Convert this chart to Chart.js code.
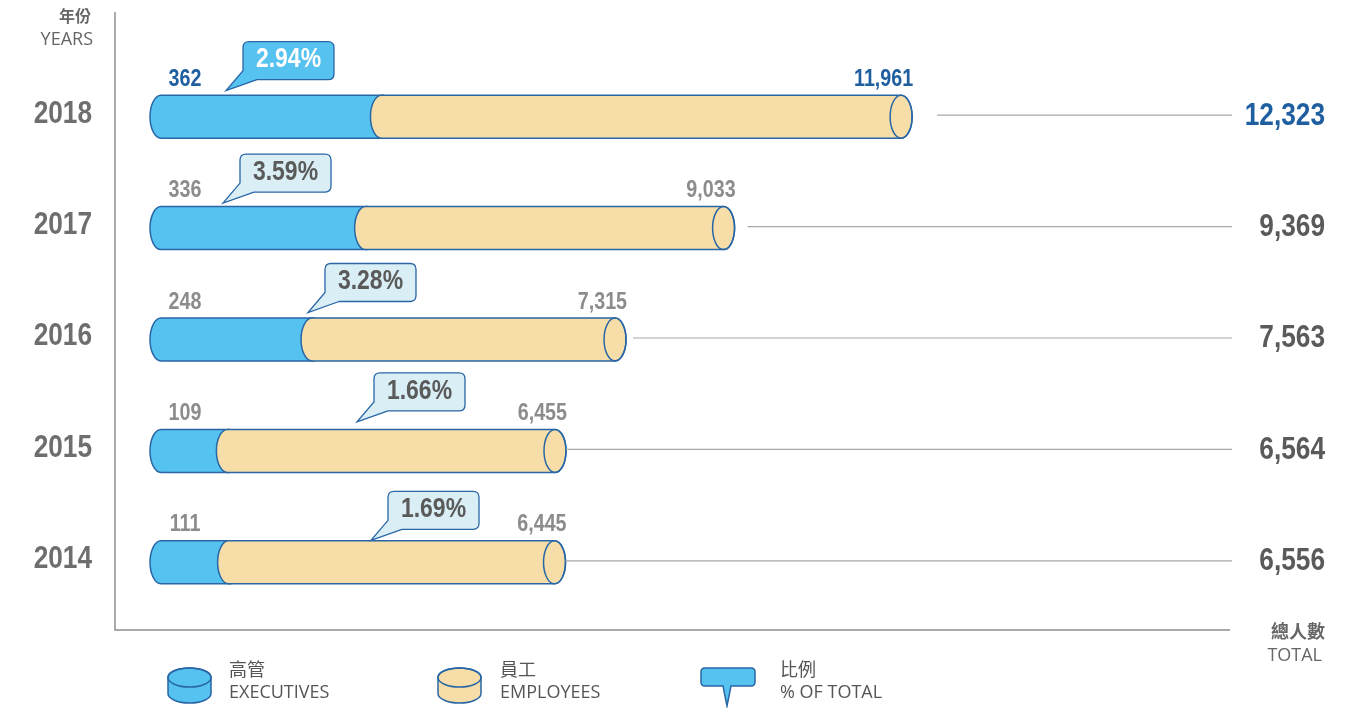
<!DOCTYPE html>
<html><head><meta charset="utf-8">
<script src="https://cdn.jsdelivr.net/npm/chart.js@4.4.1/dist/chart.umd.min.js"></script>
<style>html,body{margin:0;padding:0;background:#fff;overflow:hidden}</style>
</head><body>
<canvas id="c" width="1360" height="708" style="display:block;width:1360px;height:708px"></canvas>
<script>
// ---- data ----
const years = ['2018', '2017', '2016', '2015', '2014'];
const executives = [362, 336, 248, 109, 111];
const employees = [11961, 9033, 7315, 6455, 6445];
const totals = [12323, 9369, 7563, 6564, 6556];
const shares = [2.94, 3.59, 3.28, 1.66, 1.69];

// ---- styles ----
const NUMFONT = "'Liberation Sans',Arimo,Arial,sans-serif";
const NARROW_X = 0.82;
const CJK = "'Noto Sans CJK TC','Noto Sans CJK SC',sans-serif";
const SANS = "'Open Sans','Noto Sans',sans-serif";
const STROKE = '#2866a6';
const BLUE = '#56c2f0';
const YELLOW = '#f7dea8';
const LIGHT = '#daeef5';
const DARKBLUE = '#1f5fa0';
const GREY_LABEL = '#8c8c8c';
const GREY_DARK = '#5a5a5a';
const GREY_YEAR = '#6e6e6e';
const AXIS = '#8f8f8f';
const CAP_RX = 11;

// layout of the speech-bubble tips (pixels) and connector gaps
const calloutTipX = [226, 223, 308, 357, 371];
const calloutTipDy = [-26, -25, -27, -29, -22];
const connectorGap = [25, 13, 7, 0, 0];

const fmt = v => v.toLocaleString('en-US');

function narrowText(ctx, text, x, y, align, size, color, baseline) {
  ctx.save();
  ctx.translate(x, y);
  ctx.scale(NARROW_X, 1);
  ctx.font = 'bold ' + size + 'px ' + NUMFONT;
  ctx.fillStyle = color;
  ctx.textAlign = align;
  ctx.textBaseline = baseline || 'alphabetic';
  ctx.fillText(text, 0, 0);
  ctx.restore();
}

function roundedBubble(ctx, L, T, W, H, r, tipX, tipY) {
  const R = L + W, B = T + H;
  ctx.beginPath();
  ctx.moveTo(L + 14, B);
  ctx.lineTo(tipX, tipY);
  ctx.lineTo(L, B - 9);
  ctx.lineTo(L, T + r);
  ctx.quadraticCurveTo(L, T, L + r, T);
  ctx.lineTo(R - r, T);
  ctx.quadraticCurveTo(R, T, R, T + r);
  ctx.lineTo(R, B - r);
  ctx.quadraticCurveTo(R, B, R - r, B);
  ctx.closePath();
}

const cylinders = {
  id: 'cylinders',
  beforeDatasetsDraw(chart) {
    const ctx = chart.ctx;
    const mExec = chart.getDatasetMeta(0), mTot = chart.getDatasetMeta(1);
    ctx.save();
    ctx.lineWidth = 1.5;
    ctx.strokeStyle = STROKE;
    mExec.data.forEach((el, i) => {
      const ry = el.height / 2, cy = el.y, t = cy - ry, b = cy + ry;
      const x0 = el.base, x1 = el.x, x2 = mTot.data[i].x;
      // executives segment
      ctx.beginPath();
      ctx.moveTo(x0 + CAP_RX, t);
      ctx.lineTo(x1 + CAP_RX + 2, t);
      ctx.lineTo(x1 + CAP_RX + 2, b);
      ctx.lineTo(x0 + CAP_RX, b);
      ctx.ellipse(x0 + CAP_RX, cy, CAP_RX, ry, 0, Math.PI / 2, Math.PI * 1.5);
      ctx.closePath();
      ctx.fillStyle = BLUE; ctx.fill(); ctx.stroke();
      // employees segment (stacked up to the total)
      ctx.beginPath();
      ctx.moveTo(x1 + CAP_RX, t);
      ctx.lineTo(x2 - CAP_RX, t);
      ctx.ellipse(x2 - CAP_RX, cy, CAP_RX, ry, 0, -Math.PI / 2, Math.PI / 2, false);
      ctx.lineTo(x1 + CAP_RX, b);
      ctx.ellipse(x1 + CAP_RX, cy, CAP_RX, ry, 0, Math.PI / 2, Math.PI * 1.5, false);
      ctx.closePath();
      ctx.fillStyle = YELLOW; ctx.fill(); ctx.stroke();
      // end cap
      ctx.beginPath();
      ctx.ellipse(x2 - CAP_RX, cy, CAP_RX, ry, 0, 0, Math.PI * 2);
      ctx.stroke();
    });
    ctx.restore();
    return false;
  },
  afterDraw(chart) {
    const ctx = chart.ctx, area = chart.chartArea;
    const mExec = chart.getDatasetMeta(0), mTot = chart.getDatasetMeta(1);
    const yScale = chart.scales.y;
    ctx.save();
    // axis lines
    ctx.strokeStyle = AXIS; ctx.lineWidth = 1.5;
    ctx.beginPath();
    ctx.moveTo(area.left, 12);
    ctx.lineTo(area.left, 630);
    ctx.lineTo(area.right, 630);
    ctx.stroke();

    // year tick labels from the category scale
    yScale.ticks.forEach((tk, i) => {
      narrowText(ctx, yScale.getLabelForValue(tk.value), area.left - 23,
        yScale.getPixelForTick(i) - 3, 'right', 32, GREY_YEAR, 'middle');
    });

    mExec.data.forEach((el, i) => {
      const cy = el.y;
      const x2 = mTot.data[i].x;
      const first = i === 0;
      // connector
      ctx.beginPath();
      ctx.strokeStyle = '#a8a8a8'; ctx.lineWidth = 1.2;
      ctx.moveTo(x2 + connectorGap[i], cy - 1.5);
      ctx.lineTo(area.right + 2, cy - 1.5);
      ctx.stroke();
      // executives label
      narrowText(ctx, fmt(executives[i]), el.base + 35, cy - 31, 'center', 24, first ? DARKBLUE : GREY_LABEL);
      // employees label
      narrowText(ctx, fmt(employees[i]), x2 + 1, cy - 31, 'right', 24, first ? DARKBLUE : GREY_LABEL);
      // total
      narrowText(ctx, fmt(totals[i]), area.right + 95, cy - 1, 'right', 32, first ? DARKBLUE : GREY_DARK, 'middle');
      // callout
      const tipX = calloutTipX[i], tipY = cy + calloutTipDy[i];
      const L = tipX + 17, B = tipY - 11, W = 91, H = 38;
      roundedBubble(ctx, L, B - H, W, H, 6, tipX, tipY);
      ctx.fillStyle = first ? BLUE : LIGHT; ctx.fill();
      ctx.strokeStyle = STROKE; ctx.lineWidth = 1.3; ctx.stroke();
      narrowText(ctx, shares[i].toFixed(2) + '%', L + W / 2, B - H / 2 - 1, 'center', 28,
        first ? '#ffffff' : GREY_DARK, 'middle');
    });

    // axis titles
    ctx.fillStyle = '#666';
    ctx.textAlign = 'right';
    ctx.textBaseline = 'middle';
    ctx.font = 'bold 16px ' + CJK;
    ctx.fillText('年份', 91, 16);
    ctx.font = 'bold 18px ' + CJK;
    ctx.fillText('總人數', 1325, 631);
    ctx.font = '18px ' + SANS;
    ctx.fillText('YEARS', 93, 40);
    ctx.fillText('TOTAL', 1322, 656);

    // legend
    const cyl = (cx, top, w, h, fill) => {
      const rx = w / 2, ry = 9.5, tc = top + ry, bc = top + h - ry;
      ctx.beginPath();
      ctx.moveTo(cx - rx, tc);
      ctx.lineTo(cx - rx, bc);
      ctx.ellipse(cx, bc, rx, ry, 0, Math.PI, 0, true);
      ctx.lineTo(cx + rx, tc);
      ctx.ellipse(cx, tc, rx, ry, 0, 0, Math.PI, true);
      ctx.closePath();
      ctx.fillStyle = fill; ctx.fill();
      ctx.strokeStyle = STROKE; ctx.lineWidth = 1.5; ctx.stroke();
      ctx.beginPath();
      ctx.ellipse(cx, tc, rx, ry, 0, 0, Math.PI * 2);
      ctx.stroke();
    };
    cyl(189.5, 668, 43, 35, BLUE);
    cyl(459.5, 668, 43, 35, YELLOW);
    // bubble icon
    ctx.beginPath();
    const L = 701, T = 668, R = 755, B = 686, r = 4;
    ctx.moveTo(L + r, T);
    ctx.lineTo(R - r, T); ctx.quadraticCurveTo(R, T, R, T + r);
    ctx.lineTo(R, B - r); ctx.quadraticCurveTo(R, B, R - r, B);
    ctx.lineTo(731, B); ctx.lineTo(727, 706); ctx.lineTo(723, B);
    ctx.lineTo(L + r, B); ctx.quadraticCurveTo(L, B, L, B - r);
    ctx.lineTo(L, T + r); ctx.quadraticCurveTo(L, T, L + r, T);
    ctx.closePath();
    ctx.fillStyle = BLUE; ctx.fill();
    ctx.strokeStyle = STROKE; ctx.lineWidth = 1.5; ctx.stroke();
    ctx.fillStyle = '#555';
    ctx.textAlign = 'left';
    ctx.textBaseline = 'middle';
    const leg = [[229, '高管', 'EXECUTIVES'], [500, '員工', 'EMPLOYEES'], [780, '比例', '% OF TOTAL']];
    leg.forEach(([x, zh, en]) => {
      ctx.font = '18px ' + CJK;
      ctx.fillText(zh, x, 669);
      ctx.font = '18px ' + SANS;
      ctx.fillText(en, x, 693);
    });
    ctx.restore();
  }
};

new Chart(document.getElementById('c'), {
  type: 'bar',
  data: {
    labels: years,
    datasets: [
      { label: '高管 EXECUTIVES', data: executives, xAxisID: 'x2', grouped: false,
        backgroundColor: BLUE, borderColor: STROKE, barThickness: 43 },
      { label: '員工 EMPLOYEES', data: totals, xAxisID: 'x', grouped: false,
        backgroundColor: YELLOW, borderColor: STROKE, barThickness: 43 }
    ]
  },
  options: {
    indexAxis: 'y',
    responsive: false,
    animation: false,
    devicePixelRatio: 1,
    layout: { padding: { top: 61, bottom: 90, right: 130, left: 0 } },
    plugins: { legend: { display: false }, tooltip: { enabled: false } },
    scales: {
      x: { type: 'linear', display: false, min: -940, max: 17612 },
      x2: { type: 'linear', display: false, min: -57.5, max: 1773.5 },
      y: {
        type: 'category',
        grid: { display: false, drawTicks: false },
        border: { display: false },
        afterFit(scale) { scale.width = 115; },
        ticks: { display: false }
      }
    }
  },
  plugins: [cylinders]
});
</script>
</body></html>
